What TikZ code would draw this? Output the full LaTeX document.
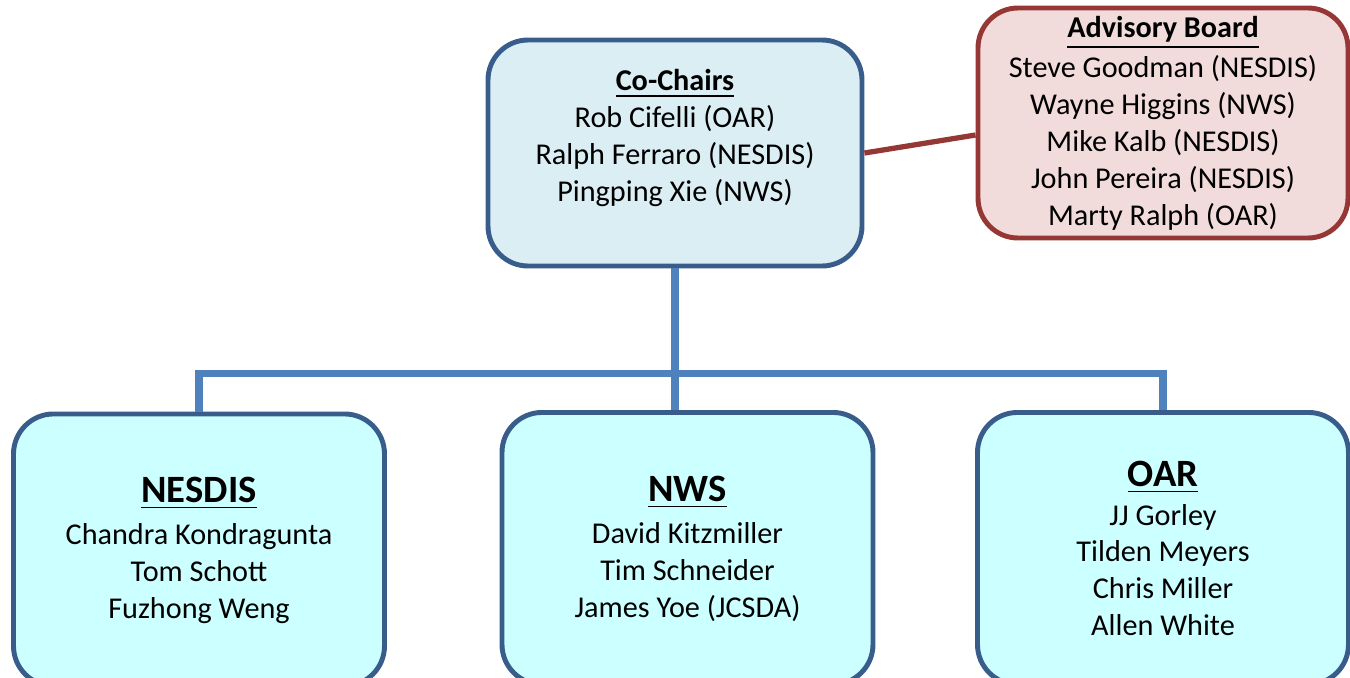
\documentclass[tikz,border=0pt]{standalone}
\usepackage{fontspec}
\setmainfont{Carlito}
\usetikzlibrary{positioning}
\definecolor{azulborde}{HTML}{385D8A}
\definecolor{azullinea}{HTML}{4F81BD}
\definecolor{rojoborde}{HTML}{953735}
\definecolor{fondochairs}{HTML}{DBEEF4}
\definecolor{fondoboard}{HTML}{F2DCDB}
\definecolor{fondogrupo}{HTML}{CCFFFF}
\tikzstyle{caja}=[draw=azulborde, line width=1.4pt, rounded corners=0.4cm,
  align=center, inner sep=0pt, font=\fontsize{8.6}{10.5}\selectfont]
\tikzstyle{chairs}=[caja, fill=fondochairs, minimum width=3.74cm, minimum height=2.26cm]
\tikzstyle{board}=[caja, draw=rojoborde, fill=fondoboard, minimum width=3.70cm,
  minimum height=2.30cm]
\tikzstyle{grupo}=[caja, fill=fondogrupo, minimum width=3.71cm, minimum height=2.72cm]
\tikzstyle{texto}=[align=center, font=\fontsize{8.6}{10.5}\selectfont]
\tikzstyle{line}=[draw, line width=2pt, color=azullinea]
\tikzstyle{enlace}=[draw, line width=1.5pt, color=rojoborde]
\newcommand{\titulo}[1]{\underline{\textbf{#1}}}
\newcommand{\oficina}[1]{{\fontsize{11}{13}\selectfont\underline{\textbf{#1}}}}

\begin{document}
\begin{tikzpicture}
  \useasboundingbox (0,0) rectangle (13.5,6.77);
  \clip (0,0) rectangle (13.5,6.77);

  % Draw diagram elements
  \path (6.75,5.24) node (chairs) [chairs] {};
  \path (chairs.center)+(0.0,0.15) node (chairstxt) [texto]
    {\titulo{Co-Chairs}\\ Rob Cifelli (OAR)\\ Ralph Ferraro (NESDIS)\\
     Pingping Xie (NWS)};
  \path (chairs.center)+(4.88,0.30) node (board) [board]
    {\titulo{Advisory Board}\\[1pt] Steve Goodman (NESDIS)\\ Wayne Higgins (NWS)\\
     Mike Kalb (NESDIS)\\ John Pereira (NESDIS)\\ Marty Ralph (OAR)};

  \path (chairs.south)+(-4.76,-2.815) node (nesdis) [grupo]
    {\oficina{NESDIS}\\[1.5pt] Chandra Kondragunta\\ Tom Schott\\ Fuzhong Weng};
  \path (chairs.south)+(0.125,-2.80) node (nws) [grupo]
    {\oficina{NWS}\\[1.5pt] David Kitzmiller\\ Tim Schneider\\ James Yoe (JCSDA)};
  \path (chairs.south)+(4.88,-2.80) node (oar) [grupo]
    {\oficina{OAR}\\[0.5pt] JJ Gorley\\ Tilden Meyers\\ Chris Miller\\ Allen White};

  % Draw lines between elements
  \path [enlace] (chairs.east) -- ([yshift=-0.12cm]board.west);
  \path [line] (chairs.south) -- (chairs.south |- nws.north);
  \path [line] (nesdis.north) -- +(0.0,0.38) -| (oar.north);
\end{tikzpicture}
\end{document}
